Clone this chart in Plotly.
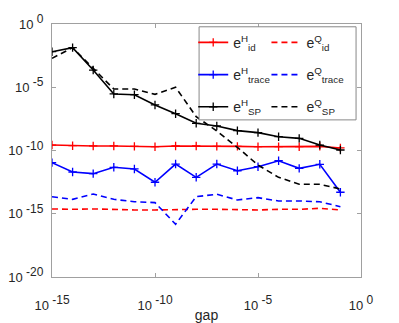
import plotly.graph_objects as go

# gap values 1e-15 ... 1e-1
gap = [10.0 ** k for k in range(-15, 0)]

# log10 of the errors
e_id_H = [-9.57, -9.62, -9.64, -9.64, -9.67, -9.70, -9.64, -9.64, -9.67, -9.67, -9.70, -9.70, -9.70, -9.67, -9.80]
e_id_Q = [-14.62, -14.65, -14.62, -14.68, -14.70, -14.70, -14.65, -14.65, -14.65, -14.70, -14.70, -14.65, -14.65, -14.57, -14.70]
e_trace_H = [-10.96, -11.70, -11.83, -11.33, -11.46, -12.51, -11.07, -12.12, -11.07, -11.60, -11.28, -10.81, -11.41, -11.09, -13.30]
e_trace_Q = [-13.65, -13.86, -13.44, -13.86, -14.05, -14.12, -15.83, -13.65, -13.46, -13.91, -13.73, -13.99, -13.99, -14.05, -14.44]
e_SP_H = [-2.19, -1.87, -3.64, -5.53, -5.59, -6.40, -7.09, -7.85, -8.06, -8.43, -8.59, -8.91, -9.04, -9.57, -9.96]
e_SP_Q = [-2.71, -1.87, -3.50, -5.14, -5.14, -5.56, -5.00, -7.33, -8.46, -9.75, -11.15, -12.12, -12.67, -12.67, -13.04]

xticks = [1e-15, 1e-10, 1e-5, 1e0]
xexp = ['-15', '-10', '-5', '0']
yticks = [1e-20, 1e-15, 1e-10, 1e-5, 1e0]
yexp = ['-20', '-15', '-10', '-5', '0']


def power_label(e):
    # MATLAB style: fairly large exponent with a small gap
    return '10<sup><span style="font-size:12px"> ' + e + '</span></sup>'


series = [
    ('e<sup>H</sup><sub>id</sub>', e_id_H, 'red', 'solid', 'legend'),
    ('e<sup>H</sup><sub>trace</sub>', e_trace_H, 'blue', 'solid', 'legend'),
    ('e<sup>H</sup><sub>SP</sub>', e_SP_H, 'black', 'solid', 'legend'),
    ('e<sup>Q</sup><sub>id</sub>', e_id_Q, 'red', '6px,4px', 'legend2'),
    ('e<sup>Q</sup><sub>trace</sub>', e_trace_Q, 'blue', '6px,4px', 'legend2'),
    ('e<sup>Q</sup><sub>SP</sub>', e_SP_Q, 'black', '6px,4px', 'legend2'),
]

fig = go.Figure()
for name, vals, color, dash, leg in series:
    solid = dash == 'solid'
    fig.add_trace(go.Scatter(
        x=gap,
        y=[10.0 ** v for v in vals],
        mode='lines+markers' if solid else 'lines',
        name=name,
        legend=leg,
        legendgroup=name,
        line=dict(color=color, width=1.6, dash=dash),
        marker=dict(symbol='cross-thin', size=6, line=dict(width=1.3, color=color)),
    ))

axis_col = '#a0a0a0'
txt_col = '#262626'
common = dict(
    type='log', showline=True, linecolor=axis_col, linewidth=1, mirror='ticks',
    ticks='inside', ticklen=4, tickcolor=axis_col, showgrid=False, zeroline=False,
    tickfont=dict(size=13, color=txt_col), automargin=False,
)
fig.update_xaxes(range=[-15, 0], tickvals=xticks, ticktext=[power_label(e) for e in xexp],
                 ticklabelstandoff=16,
                 title=dict(text='gap', font=dict(size=14, color=txt_col), standoff=23), **common)
fig.update_yaxes(range=[-20, 0], tickvals=yticks, ticktext=[power_label(e) for e in yexp],
                 ticklabelstandoff=5, **common)

legend_style = dict(
    bgcolor='rgba(0,0,0,0)', borderwidth=0,
    font=dict(size=14, color=txt_col, family='Liberation Sans, Arial, sans-serif'),
    xanchor='left', yanchor='top', y=0.989, tracegroupgap=11, itemwidth=30,
)
fig.update_layout(
    width=399, height=323,
    margin=dict(l=52, r=38, t=24, b=46),
    paper_bgcolor='white', plot_bgcolor='white',
    font=dict(family='Liberation Sans, Arial, sans-serif'),
    legend=dict(x=0.457, **legend_style),
    legend2=dict(x=0.694, **legend_style),
    shapes=[dict(type='rect', xref='paper', yref='paper', x0=0.476, x1=0.984, y0=0.621, y1=0.989,
                 line=dict(color='#888888', width=1), fillcolor='white', layer='above')],
)

fig.write_html("out.html", config={'displayModeBar': False},
               post_script="document.body.style.margin='0px';")
